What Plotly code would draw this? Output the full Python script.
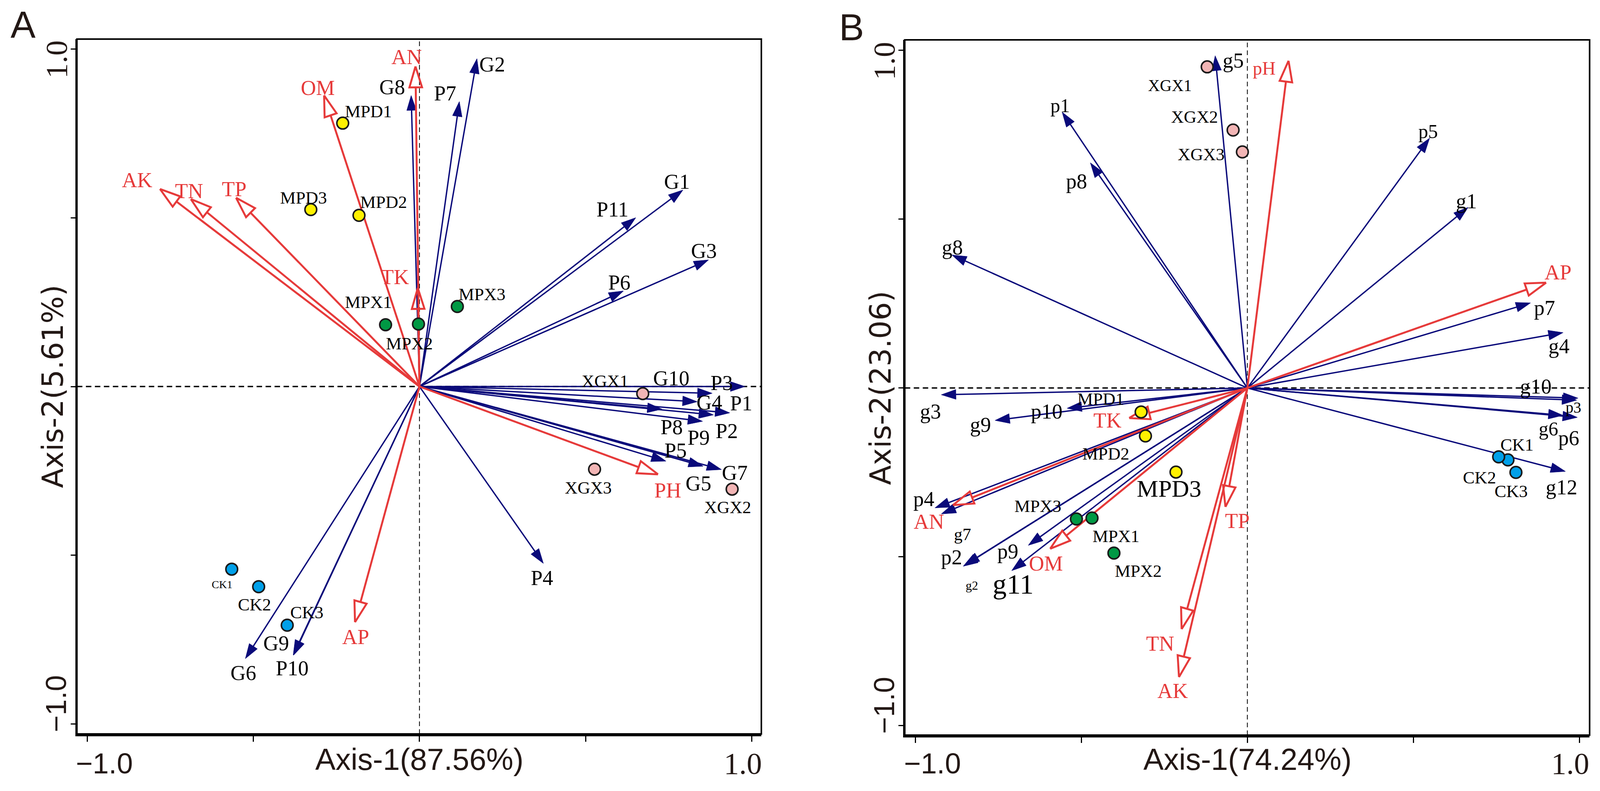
import numpy as np
import plotly.graph_objects as go

# ---------------- Panel A : Axis-1 87.56 %, Axis-2 5.61 % ----------------
a_env = ['AN', 'OM', 'AK', 'TN', 'TP', 'TK', 'PH', 'AP']
a_env_x = [-0.012, -0.287, -0.781, -0.688, -0.552, -0.005, 0.718, -0.194]
a_env_y = [0.948, 0.862, 0.585, 0.555, 0.559, 0.292, -0.260, -0.698]

a_sp = ['G2', 'G8', 'P7', 'G1', 'P11', 'G3', 'P6', 'P3', 'G10', 'G4', 'P1',
        'P2', 'P8', 'P9', 'P5', 'G5', 'G7', 'P4', 'G6', 'P10', 'G9']
a_sp_x = [0.173, -0.025, 0.120, 0.793, 0.651, 0.870, 0.614, 0.980, 0.881, 0.836, 0.934,
          0.885, 0.730, 0.852, 0.742, 0.854, 0.909, 0.373, -0.524, -0.379, -0.380]
a_sp_y = [0.971, 0.862, 0.844, 0.582, 0.500, 0.375, 0.283, 0.000, -0.020, -0.045, -0.078,
          -0.084, -0.067, -0.103, -0.221, -0.236, -0.246, -0.524, -0.806, -0.796, -0.795]

a_site = ['MPD1', 'MPD2', 'MPD3', 'MPX1', 'MPX2', 'MPX3',
          'XGX1', 'XGX2', 'XGX3', 'CK1', 'CK2', 'CK3']
a_site_x = [-0.231, -0.182, -0.327, -0.102, -0.003, 0.114,
            0.672, 0.941, 0.527, -0.565, -0.484, -0.398]
a_site_y = [0.780, 0.507, 0.524, 0.183, 0.185, 0.237,
            -0.021, -0.304, -0.245, -0.541, -0.593, -0.707]

# ---------------- Panel B : Axis-1 74.24 %, Axis-2 23.06 ----------------
b_env = ['pH', 'AP', 'TK', 'AN', 'OM', 'TP', 'TN', 'AK']
b_env_x = [0.124, 0.900, -0.356, -0.887, -0.594, -0.066, -0.198, -0.206]
b_env_y = [0.969, 0.312, -0.089, -0.347, -0.476, -0.352, -0.714, -0.856]

b_sp = ['g5', 'p1', 'p8', 'p5', 'g1', 'g8', 'p7', 'g4', 'g10', 'p3', 'g6',
        'p6', 'g12', 'g3', 'p10', 'g9', 'p4', 'g7', 'p2', 'g2', 'p9', 'g11']
b_sp_x = [-0.097, -0.558, -0.473, 0.549, 0.665, -0.890, 0.853, 0.951, 0.992, 0.996, 0.951,
          0.994, 0.958, -0.922, -0.543, -0.760, -0.941, -0.922, -0.856, -0.851, -0.660, -0.710]
b_sp_y = [0.984, 0.817, 0.667, 0.740, 0.535, 0.394, 0.252, 0.164, -0.036, -0.030, -0.081,
          -0.087, -0.247, -0.020, -0.060, -0.096, -0.355, -0.373, -0.528, -0.524, -0.466, -0.541]

b_site = ['XGX1', 'XGX2', 'XGX3', 'MPD1', 'MPD2', 'MPD3',
          'MPX1', 'MPX2', 'MPX3', 'CK1', 'CK2', 'CK3']
b_site_x = [-0.121, -0.043, -0.015, -0.320, -0.307, -0.215,
            -0.468, -0.402, -0.515, 0.785, 0.757, 0.809]
b_site_y = [0.951, 0.764, 0.699, -0.071, -0.142, -0.249,
            -0.385, -0.489, -0.388, -0.213, -0.204, -0.250]

tick_vals = [-1, -0.5, 0, 0.5, 1]

# label offsets in pixels (dx right, dy up) from the arrow tip / point
a_shift = {
    'AN': (-23, 24), 'OM': (-16, 19), 'AK': (-59, 23), 'TN': (-5, 21), 'TP': (-5, 22),
    'TK': (-60, 28), 'PH': (25, -41), 'AP': (2, -38),
    'G2': (40, -15), 'G8': (-49, 21), 'P7': (-37, 21), 'G1': (-16, 21), 'P11': (-60, 21),
    'G3': (-12, 23), 'P6': (-11, 21), 'P3': (-61, 9), 'G10': (-106, 38), 'G4': (32, -2),
    'P1': (30, 24), 'P2': (34, -41), 'P8': (25, -46), 'P9': (-10, -42), 'P5': (25, 27),
    'G5': (-12, -44), 'G7': (35, -8), 'P4': (-4, -37), 'G6': (-5, -37), 'P10': (-4, -33),
    'G9': (-44, 30),
    'MPD1': (67, 30), 'MPD2': (64, 34), 'MPD3': (-19, 30), 'MPX1': (-45, 58),
    'MPX2': (-24, -50), 'MPX3': (64, 31), 'XGX1': (-98, 32), 'XGX2': (-11, -46),
    'XGX3': (-16, -47), 'CK1': (-25, -39), 'CK2': (-11, -46), 'CK3': (51, 33),
}
b_shift = {
    'pH': (-63, -19), 'AP': (31, 26), 'TK': (-57, -6), 'AN': (-62, -42), 'OM': (-11, -38),
    'TP': (31, -36), 'TN': (-56, -37), 'AK': (-16, -36),
    'g5': (47, -12), 'p1': (-5, 17), 'p8': (-36, -48), 'p5': (-4, 17), 'g1': (-4, 16),
    'g8': (1, 19), 'p7': (36, -13), 'g4': (-11, -35), 'g10': (-106, 35), 'p3': (-12, -24),
    'g6': (-38, -34), 'p6': (-22, -53), 'g12': (-10, -41), 'g3': (-28, -43),
    'p10': (-53, -8), 'g9': (-38, -11), 'p4': (-29, 23), 'g7': (55, -52), 'p2': (-30, 23),
    'g2': (18, -52), 'p9': (-53, -16), 'g11': (4, -35),
    'XGX1': (-97, -48), 'XGX2': (-100, 34), 'XGX3': (-107, -6), 'MPD1': (-105, 33),
    'MPD2': (-103, -46), 'MPD3': (-18, -42), 'MPX1': (62, -47), 'MPX2': (63, -46),
    'MPX3': (-100, 33), 'CK1': (24, 39), 'CK2': (-50, -53), 'CK3': (-12, -48),
}
a_size = {'CK1': 28}
b_size = {'g11': 72, 'g2': 32, 'g7': 44, 'p3': 40, 'MPD3': 62, 'pH': 48, 'XGX1': 42,
          'p1': 50, 'p5': 50, 'g6': 50}

NAVY = '#0a0a7a'
RED = '#e63a3a'
INK = '#231815'
site_colors = {'MPD': '#fff100', 'MPX': '#009944', 'XGX': '#f2b5b5', 'CK': '#00a0e9'}
LABEL_FONT = 'Liberation Serif'

# the captured page is about 4096px wide and the body has an 8px margin;
# reference pixel positions (4161 wide) are squeezed by XS to fit
XS = 4096 / 4161
W, H = 4080, 2008


def px_x(p):
    return (p * XS - 8) / W


def px_y(p):
    return 1 - (p - 8) / H


def arrows(xs, ys, head_len, head_w):
    lx, ly, hx, hy = [], [], [], []
    for x, y in zip(xs, ys):
        r = np.hypot(x, y)
        ux, uy = x / r, y / r
        bx, by = x - head_len * ux, y - head_len * uy
        lx += [0, bx, None]
        ly += [0, by, None]
        hx += [x, bx - head_w * uy, bx + head_w * uy, x, None]
        hy += [y, by + head_w * ux, by - head_w * ux, y, None]
    return lx, ly, hx, hy


fig = go.Figure()


def text(xshift=0, **kw):
    fig.add_annotation(showarrow=False, xanchor='center', yanchor='middle',
                       xshift=xshift * XS, **kw)


def add_panel(sfx, env, ex, ey, sp, sx, sy, site, px, py, shift, size):
    xa, ya = 'x' + sfx, 'y' + sfx
    lx, ly, hx, hy = arrows(sx, sy, 0.044, 0.0145)
    fig.add_trace(go.Scatter(x=lx, y=ly, mode='lines', line=dict(color=NAVY, width=3.5),
                             xaxis=xa, yaxis=ya, hoverinfo='skip'))
    fig.add_trace(go.Scatter(x=hx, y=hy, mode='lines', fill='toself', fillcolor=NAVY,
                             line=dict(color=NAVY, width=1), xaxis=xa, yaxis=ya, hoverinfo='skip'))
    lx, ly, hx, hy = arrows(ex, ey, 0.062, 0.019)
    fig.add_trace(go.Scatter(x=lx, y=ly, mode='lines', line=dict(color=RED, width=5),
                             xaxis=xa, yaxis=ya, hoverinfo='skip'))
    fig.add_trace(go.Scatter(x=hx, y=hy, mode='lines', line=dict(color=RED, width=5),
                             xaxis=xa, yaxis=ya, hoverinfo='skip'))
    cols = [site_colors[s.rstrip('0123456789')] for s in site]
    fig.add_trace(go.Scatter(x=px, y=py, mode='markers', xaxis=xa, yaxis=ya,
                             marker=dict(size=30, color=cols, line=dict(color='#1a1a1a', width=4))))

    for names, xs, ys, col, base in [(env, ex, ey, RED, 54), (sp, sx, sy, 'black', 54),
                                     (site, px, py, 'black', 45)]:
        for n, x, y in zip(names, xs, ys):
            dx, dy = shift[n]
            text(x=x, y=y, xref=xa, yref=ya, text=n, xshift=dx, yshift=dy,
                 font=dict(family=LABEL_FONT, size=size.get(n, base), color=col))

    # dashed reference lines through the origin
    fig.add_shape(type='line', xref=xa, yref=ya + ' domain', x0=0, x1=0, y0=0, y1=1,
                  line=dict(color='black', width=2, dash='12px,8px'), layer='below')
    fig.add_shape(type='line', xref=xa + ' domain', yref=ya, x0=0, x1=1, y0=0, y1=0,
                  line=dict(color='black', width=3.5, dash='14px,9px'), layer='below')
    fig.add_shape(type='rect', xref=xa + ' domain', yref=ya + ' domain', x0=0, x1=1, y0=0, y1=1,
                  line=dict(color='black', width=4))


add_panel('', a_env, a_env_x, a_env_y, a_sp, a_sp_x, a_sp_y,
          a_site, a_site_x, a_site_y, a_shift, a_size)
add_panel('2', b_env, b_env_x, b_env_y, b_sp, b_sp_x, b_sp_y,
          b_site, b_site_x, b_site_y, b_shift, b_size)

xcommon = dict(showgrid=False, zeroline=False, showline=True, linecolor='black', linewidth=6,
               ticks='outside', ticklen=14, tickwidth=3, tickcolor='black', automargin=False,
               tickvals=tick_vals, showticklabels=False)
ycommon = dict(showgrid=False, zeroline=False, showline=True, linecolor='black', linewidth=4,
               ticks='outside', ticklen=12, tickwidth=3, tickcolor='black', automargin=False,
               tickvals=tick_vals, showticklabels=False)

fig.update_layout(
    width=W, height=H, margin=dict(l=0, r=0, t=0, b=0, autoexpand=False),
    paper_bgcolor='white', plot_bgcolor='white', showlegend=False,
    xaxis=dict(domain=[px_x(200), px_x(1980)], range=[-1.031, 1.029], anchor='y', **xcommon),
    yaxis=dict(domain=[px_y(1878), px_y(100)], range=[-1.029, 1.029], anchor='x', **ycommon),
    xaxis2=dict(domain=[px_x(2353), px_x(4134)], range=[-1.032, 1.031], anchor='y2', **xcommon),
    yaxis2=dict(domain=[px_y(1881), px_y(102)], range=[-1.028, 1.031], anchor='x2', **ycommon),
)

# end tick labels, axis titles and panel letters
sans_tick = dict(family='Liberation Sans', size=74, color=INK)
serif_tick = dict(family='Liberation Serif', size=78, color=INK)
for xa, ya, t1, t2, ylab_x, ytitle_x, letter, let_x, let_y in [
        ('x', 'y', 'Axis-1(87.56%)', 'Axis-2(5.61%)', 146, 137, 'A', 60, 63),
        ('x2', 'y2', 'Axis-1(74.24%)', 'Axis-2(23.06)', 2300, 2290, 'B', 2215, 70)]:
    text(x=tick_vals[0], y=px_y(1953), xref=xa, yref='paper', text='\u22121.0',
         xshift=44, font=sans_tick)
    text(x=tick_vals[-1], y=px_y(1953), xref=xa, yref='paper', text='1.0',
         xshift=-23, font=serif_tick)
    text(x=px_x(ylab_x), y=tick_vals[-1], xref='paper', yref=ya, text='1.0',
         yshift=-27, textangle=-90, font=serif_tick)
    text(x=px_x(ylab_x), y=tick_vals[0], xref='paper', yref=ya, text='\u22121.0',
         yshift=52, textangle=-90, font=sans_tick)
    text(x=0, y=px_y(1943), xref=xa, yref='paper', text=t1,
         font=dict(family='Liberation Sans', size=78, color=INK))
    text(x=px_x(ytitle_x), y=0, xref='paper', yref=ya, text=t2, textangle=-90,
         font=dict(family='DejaVu Sans', size=74, color=INK))
    text(x=px_x(let_x), y=px_y(let_y), xref='paper', yref='paper', text=letter,
         font=dict(family='Liberation Sans', size=96, color=INK))

fig.write_html('out.html')
